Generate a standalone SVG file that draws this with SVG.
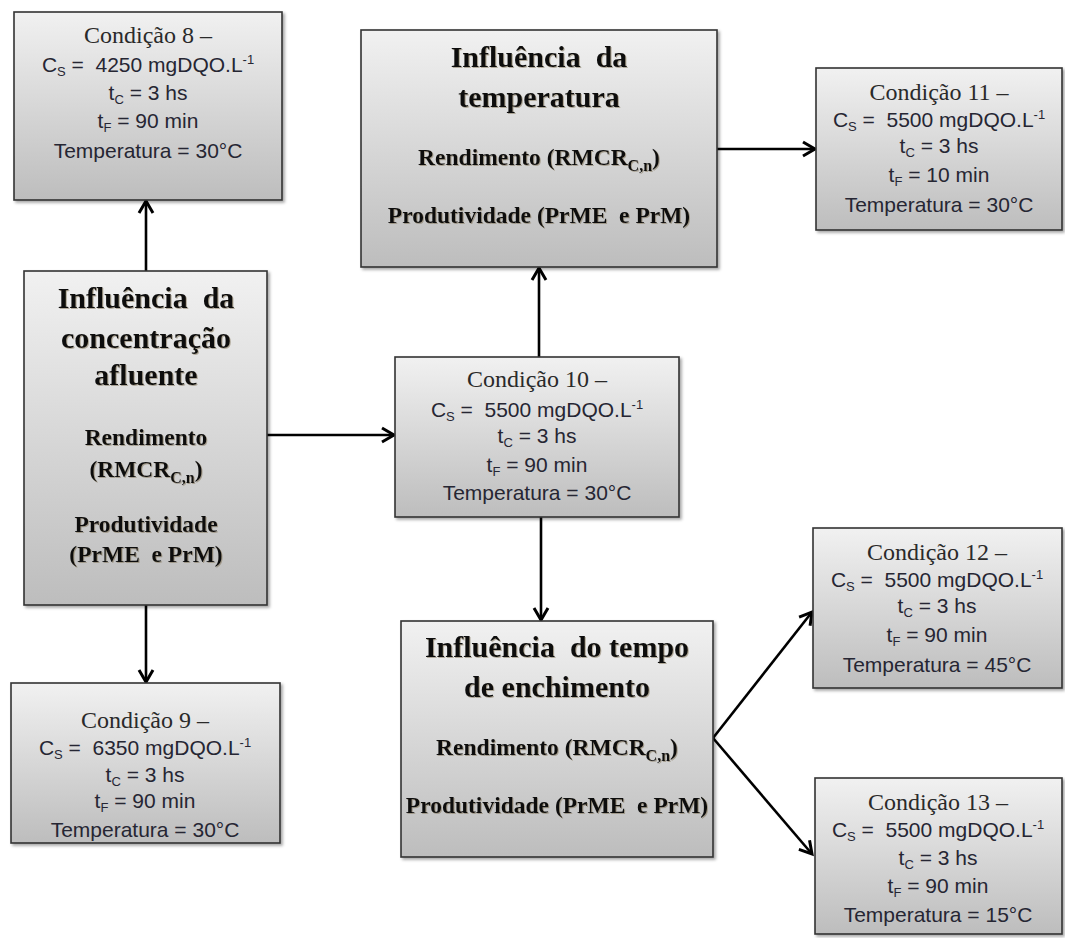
<svg xmlns="http://www.w3.org/2000/svg" width="1065" height="938" viewBox="0 0 1065 938">
<defs>
  <linearGradient id="g" x1="0" y1="0" x2="0" y2="1">
    <stop offset="0" stop-color="#f1f1f1"/>
    <stop offset="1" stop-color="#bdbdbd"/>
  </linearGradient>
  <filter id="sh" x="-5%" y="-5%" width="115%" height="115%">
    <feDropShadow dx="2" dy="2" stdDeviation="1.5" flood-color="#000" flood-opacity="0.35"/>
  </filter>
  <filter id="ts" x="-5%" y="-20%" width="110%" height="150%">
    <feDropShadow dx="1" dy="1" stdDeviation="0.6" flood-color="#7a6a50" flood-opacity="0.5"/>
  </filter>
  <marker id="ah" markerUnits="userSpaceOnUse" markerWidth="20" markerHeight="20" refX="15" refY="9" orient="auto">
    <path d="M3,2 L15,9 L3,16" fill="none" stroke="#000" stroke-width="3" stroke-linejoin="miter"/>
  </marker>
</defs>
<style>
  .box { fill: url(#g); stroke: #333; stroke-width: 1.6; filter: url(#sh); }
  .cond { font-family: "Liberation Serif", "Times New Roman", serif; font-size: 24px; fill: #2a2a2a; text-anchor: middle; }
  .val { font-family: "Liberation Sans", Arial, sans-serif; font-size: 21px; fill: #262633; text-anchor: middle; white-space: pre; }
  .sub { font-size: 13px; }
  .title { font-family: "Liberation Serif", "Times New Roman", serif; font-weight: bold; font-size: 30px; fill: #111; text-anchor: middle; filter: url(#ts); white-space: pre; }
  .txt { font-family: "Liberation Serif", "Times New Roman", serif; font-weight: bold; font-size: 23.5px; fill: #111; text-anchor: middle; filter: url(#ts); white-space: pre; }
  .bsub { font-size: 16px; }
  .conn { stroke: #000; stroke-width: 2.6; fill: none; marker-end: url(#ah); }
</style>

<g id="connectors">
  <line class="conn" x1="146" y1="271" x2="146" y2="201"/>
  <line class="conn" x1="146" y1="605" x2="146" y2="682"/>
  <line class="conn" x1="267" y1="435" x2="394" y2="435"/>
  <line class="conn" x1="539" y1="357" x2="539" y2="268"/>
  <line class="conn" x1="541" y1="517" x2="541" y2="620"/>
  <line class="conn" x1="717" y1="149" x2="815" y2="149"/>
  <line class="conn" x1="713" y1="738" x2="812" y2="612"/>
  <line class="conn" x1="713" y1="738" x2="812" y2="854"/>
</g>

<g id="cond8">
  <rect class="box" x="14" y="12" width="268" height="188"/>
  <text class="cond" x="148" y="43">Condição 8 –</text>
  <text class="val" x="148" y="72">C<tspan class="sub" dy="4">S</tspan><tspan dy="-4"> =  4250 mgDQO.L</tspan><tspan class="sub" dy="-8">-1</tspan></text>
  <text class="val" x="148" y="100">t<tspan class="sub" dy="4">C</tspan><tspan dy="-4"> = 3 hs</tspan></text>
  <text class="val" x="148" y="128">t<tspan class="sub" dy="4">F</tspan><tspan dy="-4"> = 90 min</tspan></text>
  <text class="val" x="148" y="158">Temperatura = 30°C</text>
</g>

<g id="temperatura">
  <rect class="box" x="361" y="30" width="356" height="237"/>
  <text class="title" x="539" y="67">Influência  da</text>
  <text class="title" x="539" y="107">temperatura</text>
  <text class="txt" x="539" y="165">Rendimento (RMCR<tspan class="bsub" dy="6">C,n</tspan><tspan dy="-6">)</tspan></text>
  <text class="txt" x="539" y="223">Produtividade (PrME  e PrM)</text>
</g>

<g id="cond11">
  <rect class="box" x="816" y="68" width="246" height="162"/>
  <text class="cond" x="939" y="100">Condição 11 –</text>
  <text class="val" x="939" y="127">C<tspan class="sub" dy="4">S</tspan><tspan dy="-4"> =  5500 mgDQO.L</tspan><tspan class="sub" dy="-8">-1</tspan></text>
  <text class="val" x="939" y="153">t<tspan class="sub" dy="4">C</tspan><tspan dy="-4"> = 3 hs</tspan></text>
  <text class="val" x="939" y="182">t<tspan class="sub" dy="4">F</tspan><tspan dy="-4"> = 10 min</tspan></text>
  <text class="val" x="939" y="212">Temperatura = 30°C</text>
</g>

<g id="concentracao">
  <rect class="box" x="24" y="271" width="243" height="334"/>
  <text class="title" x="146" y="308">Influência  da</text>
  <text class="title" x="146" y="348">concentração</text>
  <text class="title" x="146" y="385">afluente</text>
  <text class="txt" x="146" y="445">Rendimento</text>
  <text class="txt" x="146" y="477">(RMCR<tspan class="bsub" dy="6">C,n</tspan><tspan dy="-6">)</tspan></text>
  <text class="txt" x="146" y="532">Produtividade</text>
  <text class="txt" x="146" y="562">(PrME  e PrM)</text>
</g>

<g id="cond10">
  <rect class="box" x="395" y="357" width="284" height="160"/>
  <text class="cond" x="537" y="387">Condição 10 –</text>
  <text class="val" x="537" y="417">C<tspan class="sub" dy="4">S</tspan><tspan dy="-4"> =  5500 mgDQO.L</tspan><tspan class="sub" dy="-8">-1</tspan></text>
  <text class="val" x="537" y="443">t<tspan class="sub" dy="4">C</tspan><tspan dy="-4"> = 3 hs</tspan></text>
  <text class="val" x="537" y="472">t<tspan class="sub" dy="4">F</tspan><tspan dy="-4"> = 90 min</tspan></text>
  <text class="val" x="537" y="500">Temperatura = 30°C</text>
</g>

<g id="enchimento">
  <rect class="box" x="401" y="621" width="312" height="236"/>
  <text class="title" x="557" y="657">Influência  do tempo</text>
  <text class="title" x="557" y="697">de enchimento</text>
  <text class="txt" x="557" y="755">Rendimento (RMCR<tspan class="bsub" dy="6">C,n</tspan><tspan dy="-6">)</tspan></text>
  <text class="txt" x="557" y="813">Produtividade (PrME  e PrM)</text>
</g>

<g id="cond12">
  <rect class="box" x="813" y="528" width="249" height="160"/>
  <text class="cond" x="937" y="560">Condição 12 –</text>
  <text class="val" x="937" y="587">C<tspan class="sub" dy="4">S</tspan><tspan dy="-4"> =  5500 mgDQO.L</tspan><tspan class="sub" dy="-8">-1</tspan></text>
  <text class="val" x="937" y="613">t<tspan class="sub" dy="4">C</tspan><tspan dy="-4"> = 3 hs</tspan></text>
  <text class="val" x="937" y="642">t<tspan class="sub" dy="4">F</tspan><tspan dy="-4"> = 90 min</tspan></text>
  <text class="val" x="937" y="672">Temperatura = 45°C</text>
</g>

<g id="cond13">
  <rect class="box" x="815" y="778" width="247" height="156"/>
  <text class="cond" x="938" y="810">Condição 13 –</text>
  <text class="val" x="938" y="837">C<tspan class="sub" dy="4">S</tspan><tspan dy="-4"> =  5500 mgDQO.L</tspan><tspan class="sub" dy="-8">-1</tspan></text>
  <text class="val" x="938" y="865">t<tspan class="sub" dy="4">C</tspan><tspan dy="-4"> = 3 hs</tspan></text>
  <text class="val" x="938" y="893">t<tspan class="sub" dy="4">F</tspan><tspan dy="-4"> = 90 min</tspan></text>
  <text class="val" x="938" y="922">Temperatura = 15°C</text>
</g>

<g id="cond9">
  <rect class="box" x="11" y="683" width="269" height="160"/>
  <text class="cond" x="145" y="728">Condição 9 –</text>
  <text class="val" x="145" y="755">C<tspan class="sub" dy="4">S</tspan><tspan dy="-4"> =  6350 mgDQO.L</tspan><tspan class="sub" dy="-8">-1</tspan></text>
  <text class="val" x="145" y="782">t<tspan class="sub" dy="4">C</tspan><tspan dy="-4"> = 3 hs</tspan></text>
  <text class="val" x="145" y="808">t<tspan class="sub" dy="4">F</tspan><tspan dy="-4"> = 90 min</tspan></text>
  <text class="val" x="145" y="837">Temperatura = 30°C</text>
</g>
</svg>
